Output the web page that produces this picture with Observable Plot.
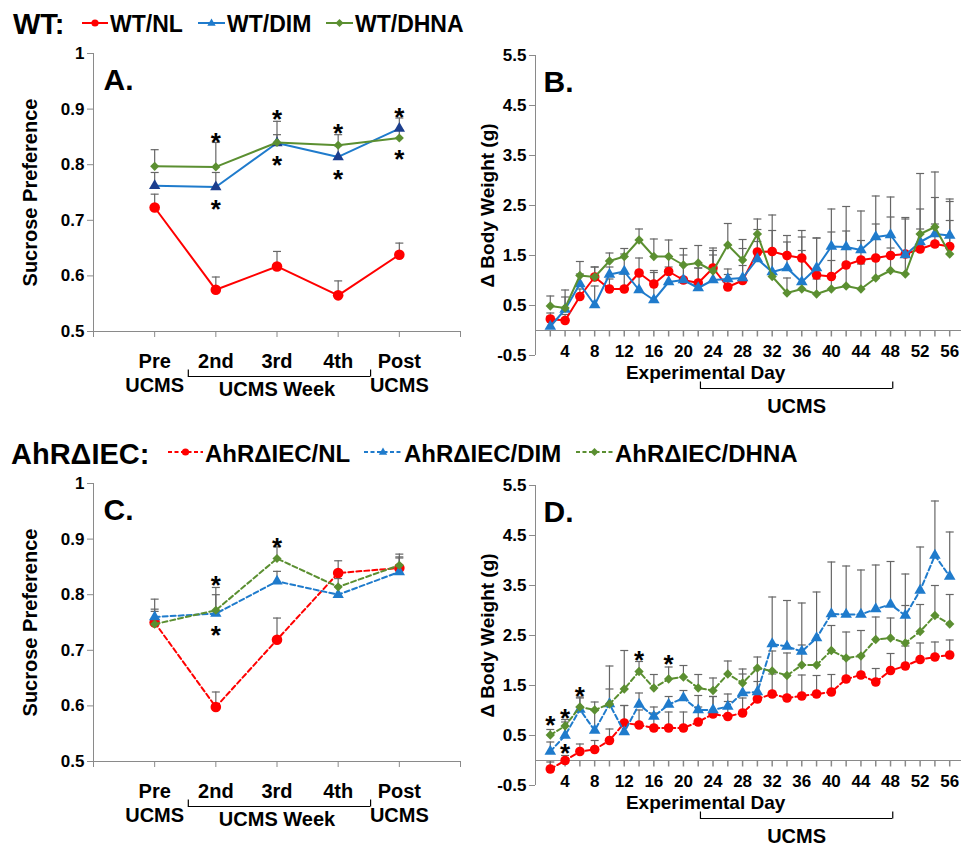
<!DOCTYPE html>
<html><head><meta charset="utf-8">
<script src="https://cdn.jsdelivr.net/npm/d3@7"></script>
<script src="https://cdn.jsdelivr.net/npm/@observablehq/plot@0.6"></script>
<style>
html,body{margin:0;padding:0;background:#fff;}
#root{position:relative;width:961px;height:850px;overflow:hidden;font-family:"Liberation Sans",Arial,sans-serif;color:#000;}
.panel{position:absolute;}
.lg{position:absolute;font-weight:bold;white-space:nowrap;line-height:1;}
.sw{position:absolute;}
</style></head>
<body><div id="root"></div>
<script>
// ---------- data ----------
const categories = ["Pre", "2nd", "3rd", "4th", "Post"];
const categorySub = ["UCMS", "", "", "", "UCMS"];
const catPos = [1, 2, 3, 4, 5];
const sucroseTicks = [0.5, 0.6, 0.7, 0.8, 0.9, 1];

const wtNL = [0.723, 0.575, 0.617, 0.565, 0.638];
const wtNLerr = [0.024, 0.023, 0.027, 0.026, 0.021];
const wtDIM = [0.762, 0.760, 0.839, 0.814, 0.865];
const wtDIMerr = [0.024, 0.026, 0.015, 0.020, 0.019];
const wtDHNA = [0.797, 0.796, 0.840, 0.835, 0.848];
const wtDHNAerr = [0.030, 0.044, 0.038, 0.019, 0.015];
const wtStarX = [2, 2, 3, 3, 4, 4, 5, 5];
const wtStarY = [0.853, 0.731, 0.893, 0.810, 0.868, 0.785, 0.898, 0.821];

const ahrNL = [0.750, 0.598, 0.719, 0.839, 0.848];
const ahrNLerr = [0.020, 0.027, 0.039, 0.022, 0.020];
const ahrDIM = [0.760, 0.766, 0.824, 0.800, 0.841];
const ahrDIMerr = [0.014, 0.034, 0.018, 0.015, 0.025];
const ahrDHNA = [0.747, 0.772, 0.865, 0.814, 0.853];
const ahrDHNAerr = [0.045, 0.041, 0.021, 0.015, 0.020];
const ahrStarX = [2, 2, 3];
const ahrStarY = [0.829, 0.739, 0.898];

const days = [2,4,6,8,10,12,14,16,18,20,22,24,26,28,30,32,34,36,38,40,42,44,46,48,50,52,54,56];
const dayLabels = [4,8,12,16,20,24,28,32,36,40,44,48,52,56];
const weightTicks = [-0.5, 0.5, 1.5, 2.5, 3.5, 4.5, 5.5];

const bNL = [0.23,0.20,0.68,1.07,0.83,0.83,1.15,0.93,1.18,1.01,0.95,1.25,0.87,1.00,1.57,1.58,1.50,1.45,1.11,1.08,1.31,1.41,1.45,1.50,1.53,1.63,1.73,1.68];
const bNLerr = [0.12,0.12,0.15,0.20,0.20,0.30,0.30,0.27,0.30,0.50,0.30,0.35,0.25,0.30,0.45,0.73,0.40,0.55,0.74,0.89,0.68,0.39,0.68,0.77,0.70,0.40,0.40,0.90];
const bDIM = [0.08,0.42,0.93,0.51,1.12,1.18,0.81,0.61,0.97,1.01,0.85,1.01,1.03,1.05,1.43,1.17,1.25,0.97,1.25,1.68,1.67,1.61,1.87,1.91,1.51,1.77,1.93,1.90];
const bDIMerr = [0.20,0.25,0.20,0.38,0.15,0.35,0.30,0.55,0.30,0.30,0.40,0.50,0.20,0.59,0.35,0.83,0.52,0.90,0.60,0.75,0.81,0.78,0.82,0.76,0.75,0.66,0.73,0.73];
const bDHNA = [0.49,0.45,1.10,1.07,1.39,1.48,1.81,1.48,1.48,1.31,1.35,1.19,1.71,1.41,1.93,1.08,0.75,0.83,0.73,0.83,0.89,0.83,1.05,1.20,1.13,1.93,2.07,1.53];
const bDHNAerr = [0.20,0.36,0.28,0.20,0.16,0.16,0.22,0.35,0.33,0.33,0.35,0.46,0.43,0.41,0.30,0.47,0.30,0.77,0.30,0.57,0.40,0.50,0.40,0.45,0.40,1.21,1.10,0.67];

const dNL = [-0.17,0.00,0.18,0.22,0.40,0.75,0.71,0.65,0.65,0.65,0.77,0.93,0.88,0.95,1.23,1.33,1.25,1.29,1.33,1.37,1.63,1.71,1.57,1.80,1.89,2.02,2.07,2.11];
const dNLerr = [0.14,0.10,0.15,0.18,0.23,0.35,0.30,0.30,0.32,0.32,0.30,0.35,0.30,0.30,0.35,0.40,0.45,0.42,0.37,0.35,0.40,0.40,0.27,0.34,0.40,0.33,0.30,0.30];
const dDIM = [0.18,0.50,1.02,0.60,1.13,0.57,1.12,0.88,1.12,1.25,1.01,1.01,1.08,1.35,1.37,2.33,2.28,2.18,2.45,2.93,2.92,2.92,3.03,3.12,2.90,3.40,4.10,3.68];
const dDIMerr = [0.19,0.27,0.23,0.40,0.30,0.53,0.23,0.19,0.16,0.15,0.29,0.27,0.25,0.38,0.45,0.94,0.92,0.97,0.92,1.04,0.97,0.89,0.88,0.86,0.83,0.87,1.09,0.89];
const dDHNA = [0.51,0.69,1.07,1.01,1.13,1.43,1.78,1.45,1.63,1.67,1.45,1.40,1.73,1.55,1.85,1.79,1.70,1.91,1.91,2.20,2.05,2.09,2.42,2.45,2.35,2.58,2.90,2.73];
const dDHNAerr = [0.11,0.13,0.20,0.16,0.76,0.77,0.20,0.27,0.24,0.23,0.27,0.25,0.26,0.28,0.22,0.40,0.45,0.40,0.50,0.50,0.52,0.51,0.45,0.40,0.75,0.54,0.60,0.59];
const dStarX = [2, 4, 4, 6, 14, 18];
const dStarY = [0.83, 0.98, 0.27, 1.41, 2.13, 2.05];

const ucmsBracket = [22.3, 48.3];       // experimental days
const ucmsWeekBracket = [1.55, 4.53];   // category positions

// ---------- styles ----------
const FONT = '"Liberation Sans", Arial, sans-serif';
const RED = "#ff0000", BLUE = "#1f7bcc", NAVY = "#1c3e8e", GREEN = "#5b8f31";
const AXIS = "#8a8a8a", ERR = "#666";
const capSym = {draw(c){c.moveTo(-4,0);c.lineTo(4,0);}};
const downTick = {draw(c){c.moveTo(0,0);c.lineTo(0,6);}};
const upTick = {draw(c){c.moveTo(0,0);c.lineTo(0,-7);}};

const root = document.getElementById("root");
function place(el, left, top){ el.classList.add("panel"); el.style.left = left+"px"; el.style.top = top+"px"; root.appendChild(el); }
function rows(xs, vals, errs, key){ return xs.map((x,i)=>({x, v: vals[i], e: errs[i], key})); }

function seriesMarks(series, dashed){
  const all = series.flatMap(s => s.rows);
  const m = [
    Plot.ruleX(all, {x:"x", y1:"v", y2:d=>d.v+d.e, stroke: ERR, strokeWidth: 1.2}),
    Plot.dot(all, {x:"x", y:d=>d.v+d.e, symbol: capSym, stroke: ERR, strokeWidth: 1.2, fill:"none"})
  ];
  for (const s of series){
    m.push(Plot.line(s.rows, {x:"x", y:"v", stroke: s.color, strokeWidth: 2, strokeDasharray: dashed ? "5,3" : null}));
    m.push(Plot.dot(s.rows, {x:"x", y:"v", symbol: s.symbol, r: s.r, fill: s.fill || s.color, stroke: "none"}));
  }
  return m;
}

function starMarks(xs, ys){
  return Plot.text(xs.map((x,i)=>({x, y: ys[i]})), {x:"x", y:"y", text: ()=>"*", fontSize: 26, fontWeight:"bold", fill:"#000", dy: 7});
}

function sucrosePanel({vals, dashed, dimFill, starX, starY, letter, left, top}){
  const [nl, nlE, dim, dimE, dh, dhE] = vals;
  const series = [
    {rows: rows(catPos, nl, nlE), color: RED, symbol: "circle", r: 5.3},
    {rows: rows(catPos, dim, dimE), color: BLUE, fill: dimFill, symbol: "triangle", r: 4.2},
    {rows: rows(catPos, dh, dhE), color: GREEN, symbol: "diamond2", r: 4.1}
  ];
  const p = Plot.plot({
    width: 470, height: 380, marginLeft: 93, marginRight: 10, marginTop: 13, marginBottom: 89,
    style: {fontFamily: FONT, background: "transparent", overflow: "visible"},
    x: {domain: [0, 6]}, y: {domain: [0.5, 1]},
    marks: [
      Plot.ruleX([0], {stroke: AXIS}),
      Plot.ruleY([0.5], {stroke: AXIS}),
      Plot.axisY({ticks: sucroseTicks, tickFormat: d => String(+d.toFixed(1)), tickSize: 6, tickPadding: 3, fontSize: 17, fontWeight: "bold", stroke: AXIS, fill: "#000", label: null}),
      Plot.axisX({ticks: [0,1,2,3,4,5,6], tickFormat: i => i>=1 && i<=5 ? categories[i-1] + (categorySub[i-1] ? "\n" + categorySub[i-1] : "") : "",
        tickSize: 6, tickPadding: 13, fontSize: 20, fontWeight: "bold", lineHeight: 1.2, stroke: AXIS, fill: "#000", label: null}),
      ...seriesMarks(series, dashed),
      starMarks(starX, starY),
      Plot.ruleY([0.5], {x1: ucmsWeekBracket[0], x2: ucmsWeekBracket[1], dy: 45, stroke: "#000", strokeWidth: 1.2}),
      Plot.dot(ucmsWeekBracket, {x: d=>d, y: ()=>0.5, dy: 45, symbol: upTick, stroke: "#000", strokeWidth: 1.2, fill: "none"}),
      Plot.text(["UCMS Week"], {x: ()=>3, y: ()=>0.5, dy: 58, text: d=>d, fontSize: 20, fontWeight: "bold", fill: "#000"}),
      Plot.text([letter], {frameAnchor: "top-left", text: d=>d, dx: 10, dy: 15, textAnchor: "start", fontSize: 30, fontWeight: "bold", fill:"#000"}),
      Plot.text(["Sucrose Preference"], {frameAnchor: "left", text: d=>d, rotate: -90, dx: -63, textAnchor: "middle", fontSize: 20, fontWeight: "bold", fill:"#000"})
    ]
  });
  place(p, left, top);
}

function weightPanel({vals, dashed, starX, starY, letter, left, top}){
  const [nl, nlE, dim, dimE, dh, dhE] = vals;
  const series = [
    {rows: rows(days, nl, nlE), color: RED, symbol: "circle", r: 4.8},
    {rows: rows(days, dim, dimE), color: BLUE, symbol: "triangle", r: 4.3},
    {rows: rows(days, dh, dhE), color: GREEN, symbol: "diamond2", r: 4.2}
  ];
  const p = Plot.plot({
    width: 494, height: 390, marginLeft: 65, marginRight: 0, marginTop: 15, marginBottom: 75,
    style: {fontFamily: FONT, background: "transparent", overflow: "visible"},
    x: {domain: [0, 58], axis: null}, y: {domain: [-0.5, 5.5]},
    marks: [
      Plot.ruleX([0], {stroke: AXIS}),
      Plot.ruleY([0], {stroke: AXIS}),
      Plot.axisY({ticks: weightTicks, tickFormat: d => d.toFixed(1), tickSize: 6, tickPadding: 3, fontSize: 17, fontWeight: "bold", stroke: AXIS, fill: "#000", label: null}),
      Plot.dot(days, {x: d=>d, y: ()=>0, symbol: downTick, stroke: AXIS, fill: "none"}),
      Plot.text(dayLabels, {x: d=>d, y: ()=>0, text: d=>String(d), dy: 21, fontSize: 17, fontWeight: "bold", fill: "#000"}),
      ...seriesMarks(series, dashed),
      starMarks(starX, starY),
      Plot.text(["Experimental Day"], {x: ()=>23, y: ()=>-0.5, dy: 17, text: d=>d, fontSize: 19, fontWeight: "bold", fill: "#000"}),
      Plot.ruleY([-0.5], {x1: ucmsBracket[0], x2: ucmsBracket[1], dy: 33, stroke: "#000", strokeWidth: 1.2}),
      Plot.dot(ucmsBracket, {x: d=>d, y: ()=>-0.5, dy: 33, symbol: upTick, stroke: "#000", strokeWidth: 1.2, fill: "none"}),
      Plot.text(["UCMS"], {x: ()=>35.3, y: ()=>-0.5, dy: 51, text: d=>d, fontSize: 20, fontWeight: "bold", fill: "#000"}),
      Plot.text([letter], {frameAnchor: "top-left", text: d=>d, dx: 8, dy: 15, textAnchor: "start", fontSize: 30, fontWeight: "bold", fill:"#000"}),
      Plot.text(["\u0394 Body Weight (g)"], {frameAnchor: "left", text: d=>d, rotate: -90, dx: -48, textAnchor: "middle", fontSize: 19, fontWeight: "bold", fill:"#000"})
    ]
  });
  place(p, left, top);
}

sucrosePanel({vals: [wtNL, wtNLerr, wtDIM, wtDIMerr, wtDHNA, wtDHNAerr], dashed: false, dimFill: NAVY, starX: wtStarX, starY: wtStarY, letter: "A.", left: 0, top: 40});
weightPanel({vals: [bNL, bNLerr, bDIM, bDIMerr, bDHNA, bDHNAerr], dashed: false, starX: [], starY: [], letter: "B.", left: 470, top: 40});
sucrosePanel({vals: [ahrNL, ahrNLerr, ahrDIM, ahrDIMerr, ahrDHNA, ahrDHNAerr], dashed: true, dimFill: BLUE, starX: ahrStarX, starY: ahrStarY, letter: "C.", left: 0, top: 470});
weightPanel({vals: [dNL, dNLerr, dDIM, dDIMerr, dDHNA, dDHNAerr], dashed: true, starX: dStarX, starY: dStarY, letter: "D.", left: 470, top: 470});

// ---------- legends ----------
function text(str, left, cy, size){
  const d = document.createElement("div"); d.className = "lg"; d.textContent = str;
  d.style.left = left + "px"; d.style.top = (cy - size*0.5) + "px"; d.style.fontSize = size + "px";
  root.appendChild(d);
}
function swatch(x1, x2, cy, color, kind, dashed){
  const w = x2 - x1, ns = "http://www.w3.org/2000/svg";
  const s = document.createElementNS(ns, "svg"); s.setAttribute("width", w); s.setAttribute("height", 14);
  s.setAttribute("class", "sw"); s.style.left = x1 + "px"; s.style.top = (cy - 7) + "px";
  const l = document.createElementNS(ns, "line");
  l.setAttribute("x1", 0); l.setAttribute("x2", w); l.setAttribute("y1", 7); l.setAttribute("y2", 7);
  l.setAttribute("stroke", color); l.setAttribute("stroke-width", 2); if (dashed) l.setAttribute("stroke-dasharray", "4,2.5");
  s.appendChild(l);
  const c = w/2; let m;
  if (kind === "circle"){ m = document.createElementNS(ns, "circle"); m.setAttribute("cx", c); m.setAttribute("cy", 7); m.setAttribute("r", 3.6); }
  else { m = document.createElementNS(ns, "path");
    m.setAttribute("d", kind === "triangle" ? `M${c},2.5L${c+4.2},9.8L${c-4.2},9.8Z` : `M${c},3L${c+4},7L${c},11L${c-4},7Z`); }
  m.setAttribute("fill", color); s.appendChild(m); root.appendChild(s);
}
const wtLegend = ["WT/NL", "WT/DIM", "WT/DHNA"];
const ahrLegend = ["AhR\u0394IEC/NL", "AhR\u0394IEC/DIM", "AhR\u0394IEC/DHNA"];
text("WT:", 13, 24, 29);
swatch(82, 108, 23, RED, "circle"); text(wtLegend[0], 110, 24, 23);
swatch(198, 225, 23, BLUE, "triangle"); text(wtLegend[1], 227, 24, 23);
swatch(326, 353, 23, GREEN, "diamond"); text(wtLegend[2], 355, 24, 23);
text("AhR\u0394IEC:", 11, 454, 29);
swatch(168, 203, 452, RED, "circle", true); text(ahrLegend[0], 205, 454, 24);
swatch(364, 402, 452, BLUE, "triangle", true); text(ahrLegend[1], 404, 454, 24);
swatch(576, 613, 452, GREEN, "diamond", true); text(ahrLegend[2], 615, 454, 24);
</script></body></html>
